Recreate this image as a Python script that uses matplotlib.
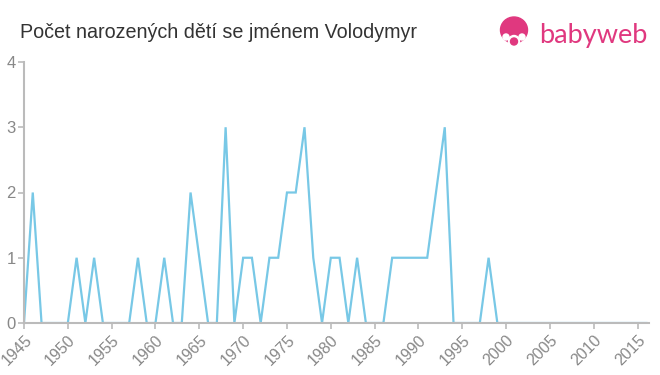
import matplotlib
matplotlib.use("Agg")
import matplotlib.pyplot as plt
from matplotlib.patches import Circle, Ellipse

years = list(range(1945, 2017))
values = [0, 2, 0, 0, 0, 0, 1, 0, 1, 0,   # 1945-1954
          0, 0, 0, 1, 0, 0, 1, 0, 0, 2,   # 1955-1964
          1, 0, 0, 3, 0, 1, 1, 0, 1, 1,   # 1965-1974
          2, 2, 3, 1, 0, 1, 1, 0, 1, 0,   # 1975-1984
          0, 0, 1, 1, 1, 1, 1, 2, 3, 0,   # 1985-1994
          0, 0, 0, 1, 0, 0, 0, 0, 0, 0,   # 1995-2004
          0, 0, 0, 0, 0, 0, 0, 0, 0, 0,   # 2005-2014
          0, 0]                           # 2015-2016
xticks = list(range(1945, 2020, 5))
yticks = [0, 1, 2, 3, 4]
title = "Počet narozených dětí se jménem Volodymyr"

plt.rcParams['font.family'] = ['Liberation Sans', 'DejaVu Sans']

fig = plt.figure(figsize=(6.6, 3.75), dpi=100)
ax = fig.add_axes([24/660, 1 - 323/375, (649 - 24)/660, (323 - 62)/375])
ax.plot(years, values, color='#78c8e6', linewidth=1.6, solid_joinstyle='miter')
ax.set_xlim(1945, 2016.3)
ax.set_ylim(0, 4)
ax.set_xticks(xticks)
ax.set_xticklabels([str(t) for t in xticks], rotation=45, ha='right', va='top',
                   rotation_mode='anchor', fontsize=11.5, color='#888888')
ax.set_yticks(yticks)
ax.set_yticklabels([str(t) for t in yticks], fontsize=12, color='#888888')
for s in ['top', 'right']:
    ax.spines[s].set_visible(False)
for s in ['left', 'bottom']:
    ax.spines[s].set_color('#bbbbbb')
    ax.spines[s].set_linewidth(1.5)
ax.tick_params(axis='both', colors='#bbbbbb', length=4, width=1.2, labelcolor='#888888')
ax.tick_params(axis='x', pad=3)
ax.tick_params(axis='y', pad=2)

fig.text(20/660, 1 - 32/375, title, fontsize=14.2, color='#333333', va='center', ha='left')

# logo
la = fig.add_axes([495/660, 1 - 52/375, 40/660, 40/375])
la.set_xlim(0, 40); la.set_ylim(0, 40); la.axis('off')
la.add_patch(Ellipse((19, 22), 27, 26, color='#e0387f'))
la.add_patch(Circle((19, 11), 5.5, color='white'))
la.add_patch(Circle((19, 10.5), 3.5, color='#e0387f'))
la.add_patch(Circle((11, 15), 3, color='white'))
la.add_patch(Circle((27, 15), 3, color='white'))
fig.text(539/660, 1 - 35/375, "babyweb", fontsize=19.5, color='#e0387f',
         va='center', ha='left', family=['Lato', 'DejaVu Sans'])

fig.savefig('out.png', dpi=100)
